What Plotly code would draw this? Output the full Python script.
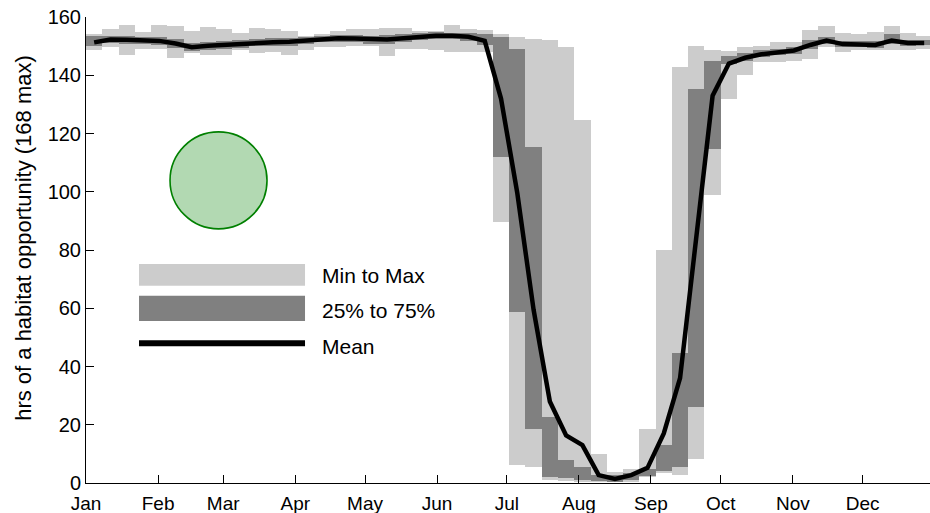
import plotly.graph_objects as go

# ---- data (weekly statistics, 52 weeks; week k spans day 7k..7k+7) ----
week_index = list(range(52))

mean_hrs = [151.3, 152.3, 152.2, 152.0, 151.8, 150.9, 149.6, 150.1, 150.4, 150.7,
            151.3, 151.3, 151.5, 151.9, 152.5, 152.7, 152.6, 152.3, 152.3, 152.7,
            153.3, 153.6, 153.6, 153.2, 151.8, 132.0, 99.5, 59.5, 28.0, 16.3,
            13.0, 2.7, 1.4, 2.7, 5.2, 17.0, 36.0, 84.0, 133.0, 144.0,
            146.0, 147.2, 147.9, 148.5, 150.4, 151.9, 150.7, 150.7, 150.4, 151.9,
            151.1, 151.1]

max_hrs = [154.0, 155.9, 157.3, 154.8, 157.3, 156.8, 155.3, 156.5, 155.9, 154.6,
           156.3, 155.9, 155.3, 153.6, 154.2, 155.3, 155.9, 155.9, 156.1, 156.1,
           155.3, 155.3, 157.3, 155.9, 155.5, 154.2, 153.1, 152.3, 152.0, 149.6,
           124.5, 9.9, 3.9, 4.9, 18.6, 80.0, 143.0, 150.2, 148.7, 148.2,
           149.6, 150.2, 151.4, 151.4, 155.5, 157.0, 154.5, 154.3, 155.0, 157.0,
           154.5, 153.6]

min_hrs = [148.5, 149.7, 146.8, 149.1, 149.1, 145.9, 147.5, 147.0, 146.8, 148.5,
           147.7, 147.9, 147.0, 148.5, 149.6, 149.6, 149.9, 149.9, 146.6, 149.1,
           149.1, 148.5, 148.1, 147.9, 148.0, 89.6, 6.2, 5.6, 1.0, 0.8,
           0.5, 0.3, 0.2, 0.5, 1.9, 3.3, 2.7, 8.3, 98.8, 131.9,
           140.2, 144.5, 144.5, 145.0, 145.6, 149.8, 148.0, 148.5, 148.5, 148.6,
           148.6, 149.1]

q75_hrs = [153.4, 153.5, 153.6, 153.3, 153.2, 152.5, 151.2, 151.5, 151.8, 152.0,
           152.6, 152.7, 152.8, 153.2, 153.6, 153.9, 153.8, 153.6, 153.7, 154.0,
           154.4, 154.7, 154.6, 154.4, 154.2, 153.1, 149.0, 115.3, 22.5, 7.9,
           5.6, 2.7, 2.8, 3.3, 4.9, 13.0, 44.5, 135.3, 145.0, 146.7,
           147.5, 148.5, 149.0, 149.8, 152.0, 153.0, 151.8, 151.8, 151.6, 154.2,
           152.2, 152.0]

q25_hrs = [150.2, 151.0, 150.8, 150.7, 150.5, 149.4, 148.3, 148.7, 149.0, 149.3,
           150.0, 150.1, 150.2, 150.6, 151.3, 151.5, 151.4, 150.9, 150.8, 151.4,
           152.0, 152.4, 152.4, 151.9, 150.5, 111.9, 58.7, 18.4, 2.2, 1.6,
           1.2, 0.8, 0.5, 1.2, 2.4, 4.0, 5.6, 26.2, 114.8, 143.9,
           145.0, 146.2, 147.0, 147.3, 149.0, 150.8, 149.6, 149.7, 149.3, 150.8,
           150.2, 150.3]

month_labels = ["Jan", "Feb", "Mar", "Apr", "May", "Jun",
                "Jul", "Aug", "Sep", "Oct", "Nov", "Dec"]
month_start_day = [0, 31, 59, 90, 120, 151, 181, 212, 243, 273, 304, 334]

legend_labels = ["Min to Max", "25% to 75%", "Mean"]

# ---- derived ----
week_center = [7 * k + 3.5 for k in week_index]
range_span = [mx - mn for mx, mn in zip(max_hrs, min_hrs)]
iqr_span = [a - b for a, b in zip(q75_hrs, q25_hrs)]

FONT = "Liberation Sans, Arial, Helvetica, sans-serif"
LIGHT = "#cccccc"
DARK = "#808080"

fig = go.Figure()
fig.add_trace(go.Bar(x=week_center, y=range_span, base=min_hrs, width=7,
                     marker=dict(color=LIGHT, line=dict(width=0)),
                     showlegend=False, hoverinfo="skip"))
fig.add_trace(go.Bar(x=week_center, y=iqr_span, base=q25_hrs, width=7,
                     marker=dict(color=DARK, line=dict(width=0)),
                     showlegend=False, hoverinfo="skip"))
fig.add_trace(go.Scatter(x=week_center, y=mean_hrs, mode="lines",
                         line=dict(color="black", width=4.5),
                         showlegend=False, hoverinfo="skip"))

shapes = [
    # green circle marker
    dict(type="circle", xref="x", yref="y", xsizemode="pixel", ysizemode="pixel",
         xanchor=57, yanchor=103.9, x0=-48.5, x1=48.5, y0=-48.5, y1=48.5,
         fillcolor="#b2d9b2", line=dict(color="#008000", width=1.6), layer="above"),
    # custom legend swatches
    dict(type="rect", xref="x", yref="y", x0=22.8, x1=94.2, y0=67.7, y1=75.2,
         fillcolor=LIGHT, line=dict(width=0), layer="above"),
    dict(type="rect", xref="x", yref="y", x0=22.8, x1=94.2, y0=55.6, y1=64.3,
         fillcolor=DARK, line=dict(width=0), layer="above"),
    dict(type="line", xref="x", yref="y", x0=22.8, x1=94.2, y0=48.0, y1=48.0,
         line=dict(color="black", width=6), layer="above"),
]

annotations = []
for label, yv in zip(legend_labels, [71.4, 59.4, 47.0]):
    annotations.append(dict(x=100.5, y=yv, xref="x", yref="y", text=label,
                            showarrow=False, xanchor="left", yanchor="middle",
                            font=dict(family=FONT, size=21, color="black")))
annotations.append(dict(x=-0.0735, y=0.526, xref="paper", yref="paper",
                        text="hrs of a habitat opportunity (168 max)",
                        textangle=-90, showarrow=False,
                        xanchor="center", yanchor="middle",
                        font=dict(family=FONT, size=22, color="black")))

fig.update_layout(
    width=930, height=513,
    margin=dict(l=86, r=0, t=17, b=30, autoexpand=False),
    paper_bgcolor="white", plot_bgcolor="white",
    barmode="overlay", bargap=0,
    shapes=shapes, annotations=annotations,
    font=dict(family=FONT, size=20, color="black"),
    xaxis=dict(range=[0, 363], tickmode="array", tickvals=month_start_day,
               ticktext=month_labels, ticks="inside", ticklen=8, tickwidth=1,
               tickcolor="black", showline=True, linecolor="black", linewidth=1,
               showgrid=False, zeroline=False, automargin=False,
               tickfont=dict(family=FONT, size=19, color="black"),
               ticklabelstandoff=3),
    yaxis=dict(range=[0, 160], tickmode="linear", tick0=0, dtick=20,
               ticks="inside", ticklen=8, tickwidth=1, tickcolor="black",
               showline=True, linecolor="black", linewidth=1,
               showgrid=False, zeroline=False, automargin=False,
               tickfont=dict(family=FONT, size=20, color="black")),
)

fig.write_html("out.html", config={"displayModeBar": False},
               post_script="document.body.style.margin='0px';document.body.style.overflow='hidden';")
